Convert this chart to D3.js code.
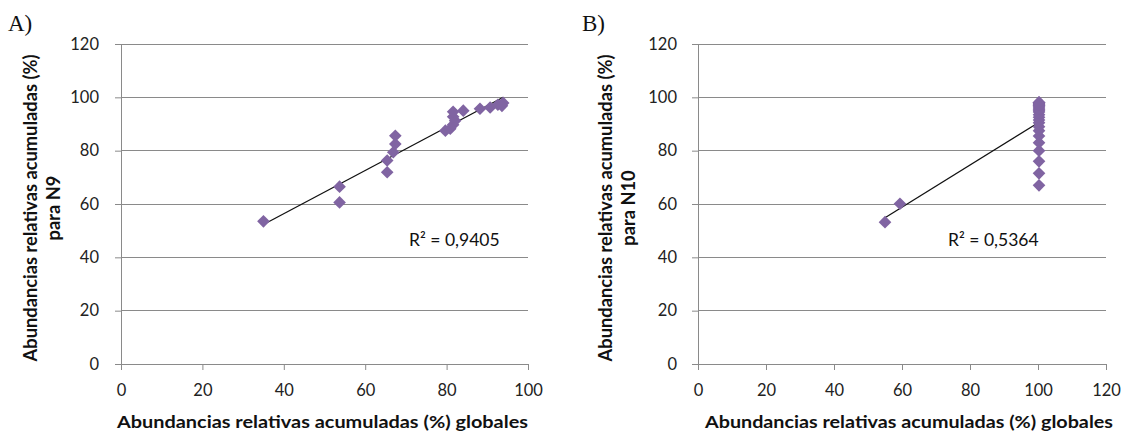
<!DOCTYPE html>
<html lang="es">
<head>
<meta charset="UTF-8">
<title>Abundancias relativas acumuladas</title>
<script src="https://d3js.org/d3.v7.min.js"></script>
<style>
    body { margin: 0; background: #ffffff; }
    svg { display: block; }
    .tick text { font-family: Lato, 'Open Sans', sans-serif; font-size: 16.5px; fill: #222; }
    .axis-title { font-family: Lato, 'Open Sans', sans-serif; font-size: 17px; font-weight: bold; fill: #111; }
    .axis-title.vertical { font-size: 18.3px; }
    .panel-tag { font-family: 'Liberation Serif', 'DejaVu Serif', serif; font-size: 23px; fill: #111; }
    .r2 { font-family: Lato, 'Open Sans', sans-serif; font-size: 17.5px; fill: #111; }
</style>
</head>
<body>
<div id="chart"></div>
<script>
    // Panel A: N9 vs global
    const globalA = [35.0, 53.7, 53.7, 65.4, 65.4, 66.9, 67.4, 67.4, 79.7, 80.9, 81.6, 82.1, 81.6, 81.6, 84.1, 88.2, 90.7, 92.6, 93.9, 93.6];
    const n9 = [53.5, 66.5, 60.6, 71.9, 76.3, 79.4, 82.5, 85.6, 87.5, 88.2, 89.7, 91.2, 92.7, 94.6, 95.0, 95.7, 96.2, 97.2, 97.9, 96.8];
    const r2A = "R² = 0,9405";

    // Panel B: N10 vs global
    const globalB = [55.0, 59.4, 100.3, 100.3, 100.3, 100.3, 100.3, 100.3, 100.3, 100.3, 100.3, 100.3, 100.3, 100.3, 100.3,
                     100.3, 100.3, 100.3, 100.3, 100.3, 100.3, 100.3, 100.3, 100.3, 100.3, 100.3, 100.3];
    const n10 = [53.2, 60.1, 67, 71.5, 76, 80, 83, 85.5, 87.5, 89, 90.5, 91.5, 92.5, 93.5, 94.5,
                 95, 95.5, 96, 96.5, 97, 97, 97.5, 97.5, 98, 98, 98, 98];
    const r2B = "R² = 0,5364";

    const xTicksA = [0, 20, 40, 60, 80, 100];
    const xTicksB = [0, 20, 40, 60, 80, 100, 120];
    const yTicks = [0, 20, 40, 60, 80, 100, 120];

    const xTitle = "Abundancias relativas acumuladas (%) globales";
    const yTitle = "Abundancias relativas acumuladas (%)";

    const width = 1121, height = 433;
    const markerColor = "#8064A2";
    const gridColor = "#8a8a8a";

    const svg = d3.select("#chart").append("svg")
        .attr("width", width)
        .attr("height", height);

    // least squares fit for the trendline
    function fit(xs, ys) {
        const mx = d3.mean(xs), my = d3.mean(ys);
        let sxy = 0, sxx = 0;
        xs.forEach((x, i) => { sxy += (x - mx) * (ys[i] - my); sxx += (x - mx) * (x - mx); });
        const b = sxy / sxx;
        return { b: b, a: my - b * mx };
    }

    function drawPanel(p) {
        const g = svg.append("g");
        const x = d3.scaleLinear().domain([0, d3.max(p.xTicks)]).range([p.left, p.right]);
        const y = d3.scaleLinear().domain([0, 120]).range([364, 44]);

        // gridlines
        g.append("g").selectAll("line")
            .data(yTicks.filter(d => d > 0))
            .join("line")
            .attr("x1", p.left).attr("x2", p.right)
            .attr("y1", d => y(d)).attr("y2", d => y(d))
            .attr("stroke", gridColor).attr("stroke-width", 1)
            .attr("shape-rendering", "crispEdges");

        // axes
        const yAxis = g.append("g")
            .attr("transform", `translate(${p.left},0)`)
            .call(d3.axisLeft(y).tickValues(yTicks).tickSize(6).tickPadding(p.yPad).tickSizeOuter(0));
        const xAxis = g.append("g")
            .attr("transform", `translate(0,${y(0)})`)
            .call(d3.axisBottom(x).tickValues(p.xTicks).tickSize(6).tickPadding(14).tickSizeOuter(0));
        [yAxis, xAxis].forEach(a => {
            a.select(".domain").attr("stroke", gridColor);
            a.selectAll(".tick line").attr("stroke", gridColor);
            a.attr("font-family", null).attr("font-size", null);
        });

        // trendline
        const f = fit(p.xs, p.ys);
        const x0 = d3.min(p.xs), x1 = d3.max(p.xs);
        g.append("line")
            .attr("x1", x(x0)).attr("y1", y(f.a + f.b * x0))
            .attr("x2", x(x1)).attr("y2", y(f.a + f.b * x1))
            .attr("stroke", "#111").attr("stroke-width", 1.3);

        // diamond markers
        const diamond = d3.symbol().type(d3.symbolSquare).size(80);
        g.append("g").selectAll("path")
            .data(p.xs.map((d, i) => [d, p.ys[i]]))
            .join("path")
            .attr("d", diamond)
            .attr("transform", d => `translate(${x(d[0])},${y(d[1])}) rotate(45)`)
            .attr("fill", markerColor);

        // R² label
        g.append("text").attr("class", "r2")
            .attr("x", p.r2x).attr("y", 246)
            .text(p.r2);

        // axis titles
        g.append("text").attr("class", "axis-title")
            .attr("x", p.xTitleX).attr("y", 428)
            .attr("textLength", p.xTitleLen)
            .attr("lengthAdjust", "spacingAndGlyphs")
            .text(xTitle);
        const yt = g.append("text").attr("class", "axis-title vertical")
            .attr("transform", `translate(${p.yTitleX},208) rotate(-90)`)
            .attr("text-anchor", "middle");
        yt.append("tspan").attr("x", 0).attr("dy", 0).text(yTitle);
        yt.append("tspan").attr("x", 0).attr("dy", 23).text(p.yTitle2);

        // panel tag
        g.append("text").attr("class", "panel-tag")
            .attr("x", p.tagX).attr("y", 31)
            .text(p.tag);
    }

    drawPanel({ xs: globalA, ys: n9, xTicks: xTicksA, left: 121, right: 528, yPad: 16,
                r2: r2A, r2x: 409, yTitleX: 37, yTitle2: "para N9", tag: "A)", tagX: 8, xTitleX: 117, xTitleLen: 411 });
    drawPanel({ xs: globalB, ys: n10, xTicks: xTicksB, left: 698, right: 1106, yPad: 15,
                r2: r2B, r2x: 948, yTitleX: 612, yTitle2: "para N10", tag: "B)", tagX: 582, xTitleX: 705, xTitleLen: 408 });
</script>
</body>
</html>
